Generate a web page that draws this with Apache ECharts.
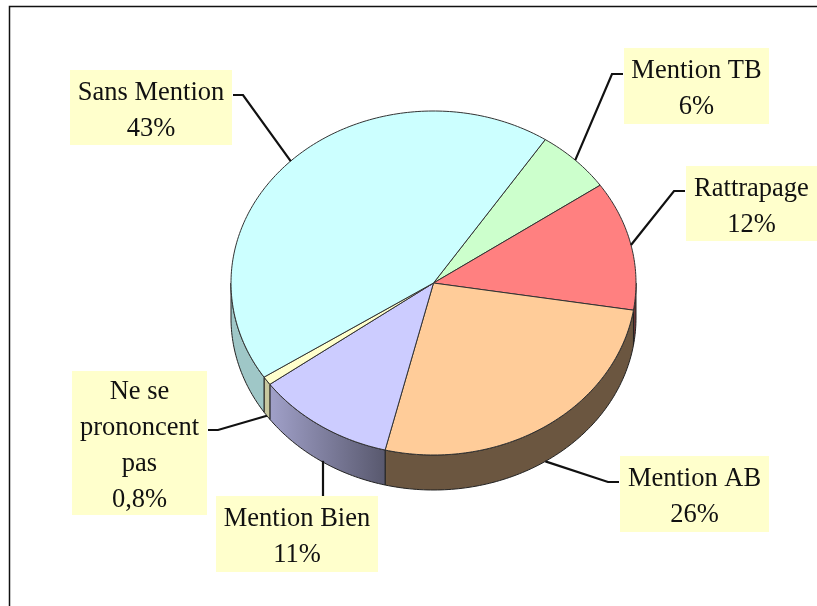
<!DOCTYPE html>
<html><head><meta charset="utf-8">
<style>html,body{margin:0;padding:0;background:#fff}#c{width:817px;height:606px}</style>
<script src="https://cdn.jsdelivr.net/npm/echarts@6/dist/echarts.min.js"></script>
</head><body><div id="c"></div>
<script>
// Data, clockwise from the first slice
const categories = ['Mention TB', 'Rattrapage', 'Mention AB', 'Mention Bien', 'Ne se\nprononcent\npas', 'Sans Mention'];
const values = [6, 12, 26, 11, 0.8, 43];
const colors = ['#CCFFCC', '#FF8080', '#FFCC99', '#CCCCFF', '#FFFFCC', '#CCFFFF'];

// Layout
const CX = 433.5, CY = 283, RX = 202.5, RY = 172, DEPTH = 35, START = 33.5;
const boxes = [
  {x: 624, y: 48, w: 145, h: 76, side: 'left', ly: 74},
  {x: 686, y: 166, w: 131, h: 75, side: 'left', ly: 191},
  {x: 620, y: 456, w: 149, h: 76, side: 'left', ly: 482},
  {x: 216, y: 496, w: 162, h: 76, side: 'top', lx: 323},
  {x: 72, y: 371, w: 135, h: 144, side: 'right', ly: 430},
  {x: 70, y: 70, w: 162, h: 75, side: 'right', ly: 95}
];
const total = values.reduce((a, b) => a + b, 0);
const rimPoint = (deg, dy) => {
  const t = deg * Math.PI / 180;
  return [CX + RX * Math.sin(t), CY - RY * Math.cos(t) + (dy || 0)];
};
function arc(a0, a1, dy) {
  const pts = [], n = Math.max(2, Math.ceil(Math.abs(a1 - a0)));
  for (let i = 0; i <= n; i++) pts.push(rimPoint(a0 + (a1 - a0) * i / n, dy));
  return pts;
}
function shade(hex, f) {
  const n = parseInt(hex.slice(1), 16);
  return 'rgb(' + [n >> 16, (n >> 8) & 255, n & 255].map(c => Math.round(c * f)).join(',') + ')';
}
const angles = [];
values.reduce((acc, v) => { angles.push([acc, acc + v / total * 360]); return acc + v / total * 360; }, START);

function renderItem(params, api) {
  const i = params.dataIndex;
  const [a0, a1] = angles[i];
  const mid = (a0 + a1) / 2;
  const children = [];
  // side wall: only the front half of the rim is visible
  const s = Math.max(a0, 90), e = Math.min(a1, 270);
  if (e > s) {
    children.push({
      type: 'polygon', shape: {points: arc(s, e, 0).concat(arc(e, s, DEPTH))},
      style: {
        fill: {type: 'linear', x: 272, y: 0, x2: 389, y2: 0, global: true,
          colorStops: [{offset: 0, color: shade(colors[i], 0.78)}, {offset: 1, color: shade(colors[i], 0.42)}]},
        stroke: '#222', lineWidth: 1
      }
    });
  }
  // top face
  children.push({
    type: 'polygon', shape: {points: [[CX, CY]].concat(arc(a0, a1, 0))},
    style: {fill: colors[i], stroke: '#333', lineWidth: 1, lineJoin: 'round'}
  });
  // leader line
  const b = boxes[i];
  const frontRim = Math.cos(mid * Math.PI / 180) < 0;
  const anchor = rimPoint(mid, frontRim ? DEPTH : 0);
  let pts;
  if (b.side === 'left') pts = [[b.x - 1, b.ly], [b.x - 12, b.ly], anchor];
  else if (b.side === 'right') pts = [[b.x + b.w + 1, b.ly], [b.x + b.w + 11, b.ly], anchor];
  else pts = [[b.lx, b.y], [b.lx, anchor[1]]];
  children.push({type: 'polyline', shape: {points: pts}, style: {fill: null, stroke: '#111', lineWidth: 2.2}});
  // label box and text
  children.push({type: 'rect', shape: {x: b.x, y: b.y, width: b.w, height: b.h}, style: {fill: '#FFFFCC'}});
  children.push({
    type: 'text',
    style: {
      x: b.x + b.w / 2, y: b.y + b.h / 2 + 3.5,
      text: categories[i] + '\n' + String(api.value(0)).replace('.', ',') + '%',
      fill: '#111', font: '26.5px "Liberation Serif"', lineHeight: 36,
      align: 'center', verticalAlign: 'middle'
    }
  });
  return {type: 'group', children};
}

const chart = echarts.init(document.getElementById('c'), null, {renderer: 'canvas'});
chart.setOption({
  backgroundColor: '#fff',
  animation: false,
  graphic: [{
    type: 'polyline', silent: true, z: 10,
    shape: {points: [[9.5, 606], [9.5, 6.5], [817, 6.5]]},
    style: {fill: null, stroke: '#111', lineWidth: 1.5}
  }],
  series: [{
    type: 'custom', coordinateSystem: 'none', renderItem,
    data: categories.map((name, i) => ({name, value: [values[i]]}))
  }]
});
</script></body></html>
